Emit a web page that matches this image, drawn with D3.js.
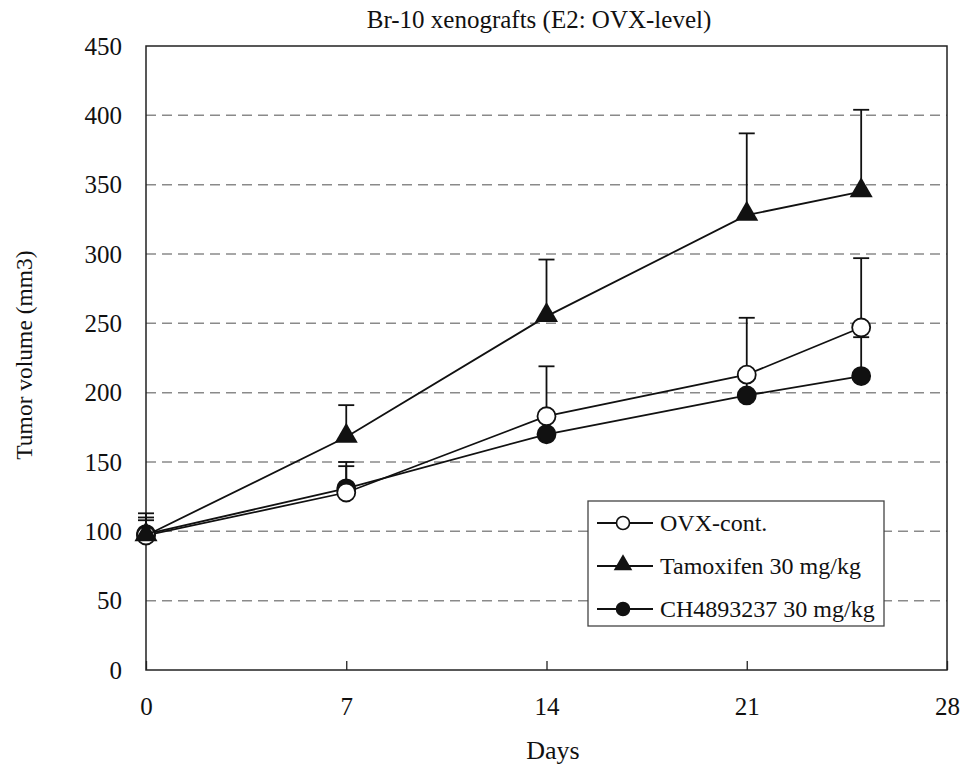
<!DOCTYPE html>
<html>
<head>
<meta charset="utf-8">
<script src="https://cdn.jsdelivr.net/npm/d3@7"></script>
<style>
  body { margin: 0; background: #fff; }
  text { font-family: "Liberation Serif", "Times New Roman", serif; fill: #111; }
</style>
</head>
<body>
<script>
// data
var days = [0, 7, 14, 21, 25];
var xTicks = [0, 7, 14, 21, 28];
var yTicks = [0, 50, 100, 150, 200, 250, 300, 350, 400, 450];

var ovxMean = [97, 128, 183, 213, 247];
var ovxUpper = [113, 150, 219, 254, 297];
var tamMean = [97, 168, 255, 328, 345];
var tamUpper = [110, 191, 296, 387, 404];
var chMean = [98, 131, 170, 198, 212];
var chUpper = [108, 147, 180, 210, 240];

var seriesNames = ["OVX-cont.", "Tamoxifen 30 mg/kg", "CH4893237 30 mg/kg"];
var seriesMarks = ["openCircle", "triangle", "filledCircle"];

var width = 979, height = 772;
var pLeft = 146, pRight = 947, pTop = 46, pBottom = 670;

var svg = d3.select("body").append("svg")
    .attr("width", width)
    .attr("height", height);

var x = d3.scaleLinear().domain([0, 28]).range([pLeft, pRight]);
var y = d3.scaleLinear().domain([0, 450]).range([pBottom, pTop]);

// dashed grid
svg.selectAll("line.grid")
    .data(yTicks.filter(function(d) { return d > 0 && d < 450; }))
    .enter().append("line")
    .attr("class", "grid")
    .attr("x1", pLeft).attr("x2", pRight)
    .attr("y1", function(d) { return y(d); })
    .attr("y2", function(d) { return y(d); })
    .attr("stroke", "#8a8a8a")
    .attr("stroke-width", 1.5)
    .attr("stroke-dasharray", "10,6");

// frame
svg.append("rect")
    .attr("x", pLeft).attr("y", pTop)
    .attr("width", pRight - pLeft).attr("height", pBottom - pTop)
    .attr("fill", "none")
    .attr("stroke", "#222")
    .attr("stroke-width", 1.5);

// x axis ticks (inside) and labels
var xAxis = d3.axisBottom(x).tickValues(xTicks).tickSize(-9).tickPadding(27);
var gx = svg.append("g").attr("transform", "translate(0," + pBottom + ")").call(xAxis);
gx.select(".domain").remove();
gx.selectAll(".tick line").attr("stroke", "#222").attr("stroke-width", 1.3);
gx.selectAll(".tick text")
    .attr("font-size", 25)
    .attr("font-family", "Liberation Serif, serif")
    .attr("fill", "#111");

var yAxis = d3.axisLeft(y).tickValues(yTicks).tickSize(0).tickPadding(24);
var gy = svg.append("g").attr("transform", "translate(" + pLeft + ",0)").call(yAxis);
gy.select(".domain").remove();
gy.selectAll(".tick text")
    .attr("font-size", 25)
    .attr("font-family", "Liberation Serif, serif")
    .attr("fill", "#111");

// titles
svg.append("text")
    .attr("x", 539).attr("y", 28)
    .attr("text-anchor", "middle")
    .attr("font-size", 25)
    .text("Br-10 xenografts (E2: OVX-level)");

svg.append("text")
    .attr("x", 553).attr("y", 759)
    .attr("text-anchor", "middle")
    .attr("font-size", 26)
    .text("Days");

svg.append("text")
    .attr("transform", "translate(32," + 355 + ") rotate(-90)")
    .attr("text-anchor", "middle")
    .attr("font-size", 23.5)
    .text("Tumor volume (mm3)");

var series = [
  { mean: chMean, upper: chUpper, mark: "filledCircle" },
  { mean: ovxMean, upper: ovxUpper, mark: "openCircle" },
  { mean: tamMean, upper: tamUpper, mark: "triangle" }
];

var line = d3.line()
    .x(function(d) { return x(d[0]); })
    .y(function(d) { return y(d[1]); });

function drawMark(g, kind, cx, cy) {
  if (kind === "triangle") {
    g.append("path")
      .attr("d", d3.symbol().type(d3.symbolTriangle).size(230)())
      .attr("transform", "translate(" + cx + "," + (cy - 1) + ")")
      .attr("fill", "#111");
  } else {
    g.append("circle")
      .attr("cx", cx).attr("cy", cy).attr("r", 9)
      .attr("fill", kind === "openCircle" ? "#fff" : "#111")
      .attr("stroke", "#111")
      .attr("stroke-width", 1.8);
  }
}

series.forEach(function(s) {
  var g = svg.append("g");
  var pts = days.map(function(d, i) { return [d, s.mean[i], s.upper[i]]; });

  // error bars (upper only)
  g.selectAll("line.err").data(pts).enter().append("line")
    .attr("x1", function(d) { return x(d[0]); })
    .attr("x2", function(d) { return x(d[0]); })
    .attr("y1", function(d) { return y(d[1]); })
    .attr("y2", function(d) { return y(d[2]); })
    .attr("stroke", "#111").attr("stroke-width", 1.8);
  g.selectAll("line.cap").data(pts).enter().append("line")
    .attr("x1", function(d) { return x(d[0]) - 8; })
    .attr("x2", function(d) { return x(d[0]) + 8; })
    .attr("y1", function(d) { return y(d[2]); })
    .attr("y2", function(d) { return y(d[2]); })
    .attr("stroke", "#111").attr("stroke-width", 1.8);

  g.append("path")
    .attr("d", line(pts))
    .attr("fill", "none")
    .attr("stroke", "#111")
    .attr("stroke-width", 1.8);

  pts.forEach(function(d) { drawMark(g, s.mark, x(d[0]), y(d[1])); });
});

// legend
var lg = svg.append("g");
lg.append("rect")
    .attr("x", 588).attr("y", 501)
    .attr("width", 296).attr("height", 125)
    .attr("fill", "#fff")
    .attr("stroke", "#444")
    .attr("stroke-width", 1.3);

seriesNames.forEach(function(name, i) {
  var ly = 523 + i * 43;
  lg.append("line")
    .attr("x1", 597).attr("x2", 653)
    .attr("y1", ly).attr("y2", ly)
    .attr("stroke", "#111").attr("stroke-width", 1.8);
  var g = lg.append("g");
  if (seriesMarks[i] === "triangle") {
    g.append("path")
      .attr("d", d3.symbol().type(d3.symbolTriangle).size(150)())
      .attr("transform", "translate(623," + (ly - 1) + ")")
      .attr("fill", "#111");
  } else {
    g.append("circle")
      .attr("cx", 623).attr("cy", ly).attr("r", 6.5)
      .attr("fill", seriesMarks[i] === "openCircle" ? "#fff" : "#111")
      .attr("stroke", "#111").attr("stroke-width", 1.6);
  }
  lg.append("text")
    .attr("x", 660).attr("y", ly + 8)
    .attr("font-size", 24)
    .text(name);
});
</script>
</body>
</html>
